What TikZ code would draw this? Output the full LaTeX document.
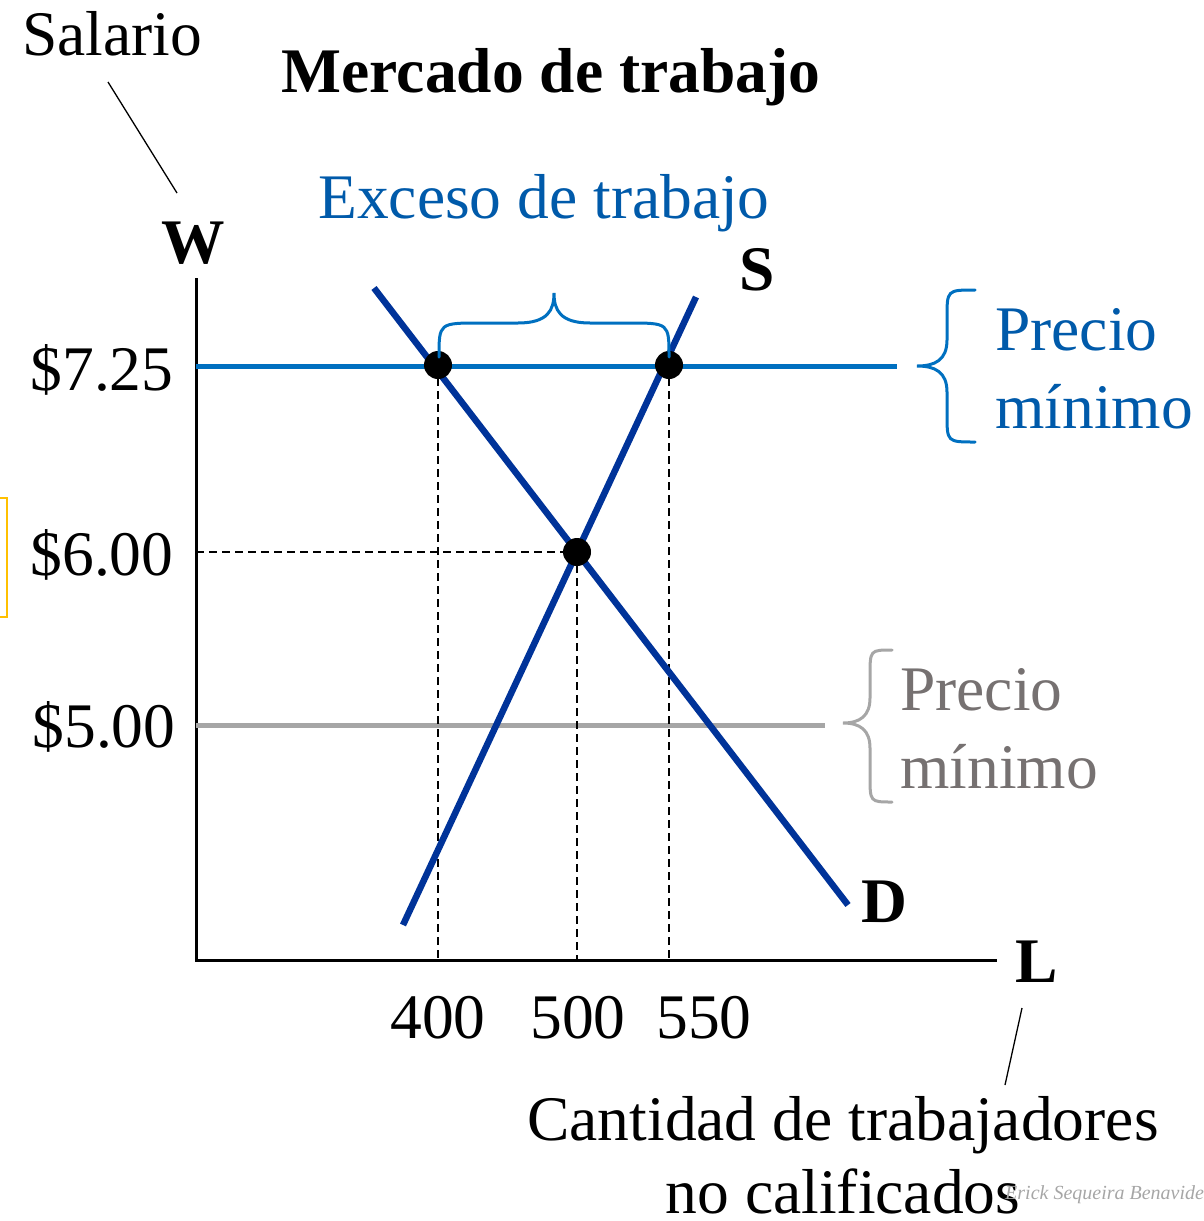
\documentclass[tikz,border=0pt]{standalone}
\usepackage{fontspec}
\setmainfont{Liberation Serif}
\definecolor{dblue}{RGB}{0,51,153}
\definecolor{lblue}{RGB}{0,112,192}
\definecolor{tblue}{RGB}{0,90,170}
\definecolor{lgray}{RGB}{166,166,166}
\definecolor{tgray}{RGB}{118,113,113}
\definecolor{ybox}{RGB}{255,192,0}
\tikzset{
  big/.style={font=\fontsize{63.5}{72}\selectfont, inner sep=0pt},
  bigb/.style={font=\fontsize{63.5}{72}\selectfont\bfseries, inner sep=0pt},
  curve/.style={dblue, line width=6.5pt},
  guide/.style={black, line width=1.5pt, dash pattern=on 8pt off 5pt},
  ptdot/.style={circle, fill=black, minimum size=28pt, inner sep=0pt},
  pointer/.style={black, line width=1.3pt}
}
\begin{document}
\begin{tikzpicture}[x=1pt,y=-1pt]
\useasboundingbox (0,0) rectangle (1204,1221);
% yellow partial box
\draw[ybox, line width=2pt] (0,498) -- (7,498) -- (7,617) -- (0,617);
% axes
\coordinate (O) at (196,960);
\coordinate (ytop) at (196,278);
\coordinate (xend) at (997,960);
\draw[black, line width=3pt] (ytop) -- (O) -- (xend);
% price floors
\coordinate (h1a) at (196,366); \coordinate (h1b) at (897,366);
\coordinate (h2a) at (196,725); \coordinate (h2b) at (825,725);
\draw[lblue, line width=5pt] (h1a) -- (h1b);
\draw[lgray, line width=5pt] (h2a) -- (h2b);
% points
\coordinate (pA) at (438,365);
\coordinate (pB) at (669,365);
\coordinate (pE) at (577,552);
\coordinate (qA) at (438,960);
\coordinate (qB) at (669,960);
\coordinate (qE) at (577,960);
\coordinate (wE) at (196,552);
\draw[guide] (pA) -- (qA);
\draw[guide] (pB) -- (qB);
\draw[guide] (pE) -- (qE);
\draw[guide] (wE) -- (pE);
% curves
\coordinate (d1) at (374,288); \coordinate (d2) at (848,905);
\coordinate (s1) at (403,925); \coordinate (s2) at (696,297);
\draw[curve] (d1) -- (d2);
\draw[curve] (s1) -- (s2);
\node[ptdot] (dotA) at (pA) {};
\node[ptdot] (dotB) at (pB) {};
\node[ptdot] (dotE) at (pE) {};
% brace over excess
\draw[lblue, line width=3pt, line cap=round]
  (439,357) .. controls (439,323) .. (480,323) -- (518,323)
  .. controls (548,323) and (554,310) .. (554,293)
  .. controls (554,310) and (560,323) .. (590,323) -- (628,323)
  .. controls (669,323) .. (669,357);
% right blue brace
\draw[lblue, line width=3pt, line cap=round]
  (975,290) .. controls (947,290) .. (947,318) -- (947,340)
  .. controls (947,360) and (935,366) .. (917,366)
  .. controls (935,366) and (947,372) .. (947,392) -- (947,414)
  .. controls (947,442) .. (975,442);
% gray brace
\draw[lgray, line width=3pt, line cap=round]
  (892,650) .. controls (870,650) .. (870,676) -- (870,698)
  .. controls (870,716) and (860,723) .. (843,723)
  .. controls (860,723) and (870,730) .. (870,748) -- (870,776)
  .. controls (870,802) .. (892,802);
% labels
\node[big] (salario) at (112,34) {Salario};
\coordinate (sal1) at (108,82); \coordinate (sal2) at (177,193);
\draw[pointer] (sal1) -- (sal2);
\node[bigb] (title) at (551,77) {Mercado de trabajo};
\node[big, text=tblue] (exceso) at (544,203) {Exceso de trabajo};
\node[bigb] (W) at (193,243) {W};
\node[bigb] (S) at (757,270) {S};
\node[bigb] (D) at (884,902) {D};
\node[bigb] (L) at (1037,962) {L};
\node[big] (w725) at (102,370) {\$7.25};
\node[big] (w600) at (102,555) {\$6.00};
\node[big] (w500) at (104,727) {\$5.00};
\node[big] (q400) at (438,1018) {400};
\node[big] (q500) at (578,1018) {500};
\node[big] (q550) at (704,1018) {550};
\node[big, text=tblue, anchor=west, align=left] (pm1) at (995,369) {Precio\\[6pt]mínimo};
\node[big, text=tgray, anchor=west, align=left] (pm2) at (900,729) {Precio\\[6pt]mínimo};
\coordinate (l1) at (1022,1008); \coordinate (l2) at (1005,1085);
\draw[pointer] (l1) -- (l2);
\node[big, align=center] (cant) at (843,1155) {Cantidad de trabajadores\\[1pt]no calificados};
\node[font=\fontsize{20}{22}\itshape, text=lgray, anchor=west, inner sep=0pt] (wm) at (1005,1195) {Erick Sequeira Benavide};
\end{tikzpicture}
\end{document}
